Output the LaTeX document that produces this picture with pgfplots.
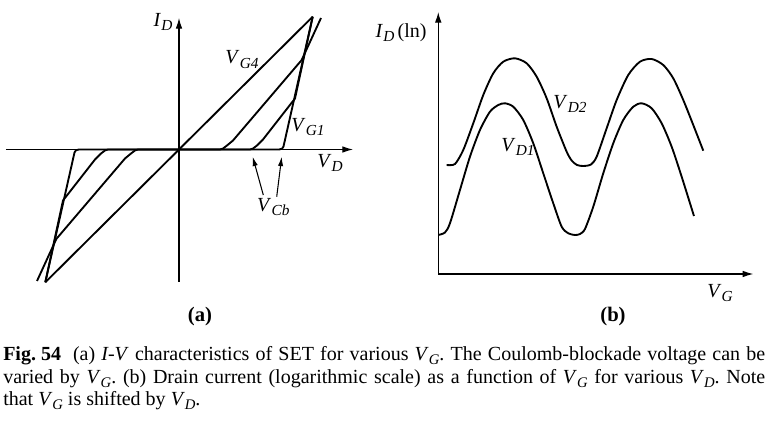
\documentclass[border=0pt]{standalone}
\usepackage{pgfplots}
\pgfplotsset{compat=1.18}
\usepackage{fontspec}
\setmainfont{Liberation Serif}
\usetikzlibrary{arrows.meta}
\frenchspacing
\newcommand{\lf}{\fontsize{15}{17}\selectfont}
\newcommand{\lab}[2]{\textit{#1}\kern0.01em\raisebox{-0.45ex}{\fontsize{11.5}{12}\selectfont\textit{#2}}}
\newcommand{\csub}[2]{\textit{#1}\raisebox{-0.4ex}{\fontsize{11}{12}\selectfont\textit{#2}}}
\begin{document}
\begin{tikzpicture}[x=0.75pt,y=0.75pt]
\useasboundingbox (0,0) rectangle (769,421);
% ---------------- panel (a)
\begin{axis}[
  x=0.75pt, y=0.75pt,
  xmin=-173, xmax=174, ymin=-132.5, ymax=131.5,
  axis lines=middle,
  axis line style={line width=0.9pt, -{Latex[length=8pt,width=5pt]}},
  xtick=\empty, ytick=\empty,
  anchor=south west, at={(4.5pt,104.25pt)},
  clip=false,
]
\addplot[black, line width=1.4pt, line join=round] coordinates {(-133.7,-132.8) (133.7,132.8)};
\addplot[black, line width=1.4pt, line join=round] coordinates {(-133.7,-132.8) (-104.5,-3) (-103,-0.7) (-100,0) (100,0) (103,0.7) (104.5,3) (133.7,132.8)};
\addplot[black, line width=1.4pt, line join=round] coordinates {(-133.7,-132.8) (-116,-51) (-84,-10) (-78,-4) (-74,-1) (-71,0) (71,0) (74,1) (78,4) (84,10) (116,51) (133.7,132.8)};
\addplot[black, line width=1.4pt, line join=round] coordinates {(-142,-131.5) (-122.7,-89.5) (-54,-9) (-48,-4) (-44,-1) (-41,0) (41,0) (44,1) (48,4) (54,9) (122.7,89.5) (142,131.5)};
\node[font=\lf] at (axis cs:-16,127.5) {\lab{I}{D}};
\node[font=\lf] at (axis cs:63,90) {\lab{V}{G4}};
\node[font=\lf] at (axis cs:129,22.5) {\lab{V}{G1}};
\node[font=\lf] at (axis cs:151,-13.5) {\lab{V}{D}};
\node[font=\lf] at (axis cs:94.3,-57.2) {\lab{V}{Cb}};
\draw[line width=0.8pt, -{Latex[length=7pt,width=4pt]}] (axis cs:84.3,-45.5) -- (axis cs:73.7,-7.2);
\draw[line width=0.8pt, -{Latex[length=7pt,width=4pt]}] (axis cs:97.7,-47.2) -- (axis cs:102.7,-7.2);
\end{axis}
% ---------------- panel (b)
\begin{axis}[
  x=0.75pt, y=0.75pt,
  xmin=0, xmax=315, ymin=0, ymax=262,
  axis lines=left,
  axis line style={line width=0.9pt, -{Latex[length=8pt,width=5pt]}},
  xtick=\empty, ytick=\empty,
  anchor=south west, at={(328.7pt,110.25pt)},
  clip=false,
]
\addplot[black, line width=1.4pt, smooth, tension=0.45] coordinates {
(8.4,109) (16.7,110) (25,124) (35,150.7) (45,179) (55,200.7) (65,212.3) (76.7,215.7) (88.4,210.7) (98.4,197.3) (108.4,175.7) (118.4,147.3) (128.4,122.3) (133.4,113.5) (138.7,109) (145,108) (152.7,109.5) (158.4,117.3) (168.4,145.7) (178.4,174) (190,199) (201.7,212.3) (213.4,215) (225,209) (235,195.7) (245,174) (255,149) (265,123.3)};
\addplot[black, line width=1.4pt, smooth, tension=0.45] coordinates {
(0,39) (6.7,41.5) (11.7,50.7) (21.7,84) (31.7,117.3) (41.7,144) (51.7,162.3) (60,169) (66.7,170.7) (75,167.3) (85,154) (95,130.7) (105,100.7) (115,70.7) (123.4,47.3) (130,40.7) (136.7,39) (141.7,40) (146.7,45) (155,67.3) (165,100.7) (175,130.7) (185,154) (195,167.3) (203.4,170.7) (213.4,165.7) (223.4,150.7) (233.4,127.3) (243.4,97.3) (255.7,58)};
\node[font=\lf, anchor=east] at (axis cs:-7,241) {\lab{I}{D}\,(ln)};
\node[font=\lf] at (axis cs:131.7,170) {\lab{V}{D2}};
\node[font=\lf] at (axis cs:79.7,127) {\lab{V}{D1}};
\node[font=\lf] at (axis cs:281.7,-19) {\lab{V}{G}};
\end{axis}
% ---------------- labels and caption
\node[font=\fontsize{15.5}{17}\selectfont\bfseries] at (200,104) {(a)};
\node[font=\fontsize{15.5}{17}\selectfont\bfseries] at (613,104) {(b)};
\node[anchor=base west, inner sep=0] at (3,60) {\fontsize{15}{17}\selectfont\makebox[571.5pt][s]{\mbox{\textbf{Fig.\ 54}\hspace{0.6em}(a)} \textit{I-V} characteristics of SET for various \csub{V}{G}. The Coulomb-blockade voltage can be}};
\node[anchor=base west, inner sep=0] at (3,37.5) {\fontsize{15}{17}\selectfont\makebox[571.5pt][s]{varied by \csub{V}{G}. (b) Drain current (logarithmic scale) as a function of \csub{V}{G} for various \csub{V}{D}. Note}};
\node[anchor=base west, inner sep=0] at (3,15) {\fontsize{15}{17}\selectfont that \csub{V}{G} is shifted by \csub{V}{D}.};
\end{tikzpicture}
\end{document}
